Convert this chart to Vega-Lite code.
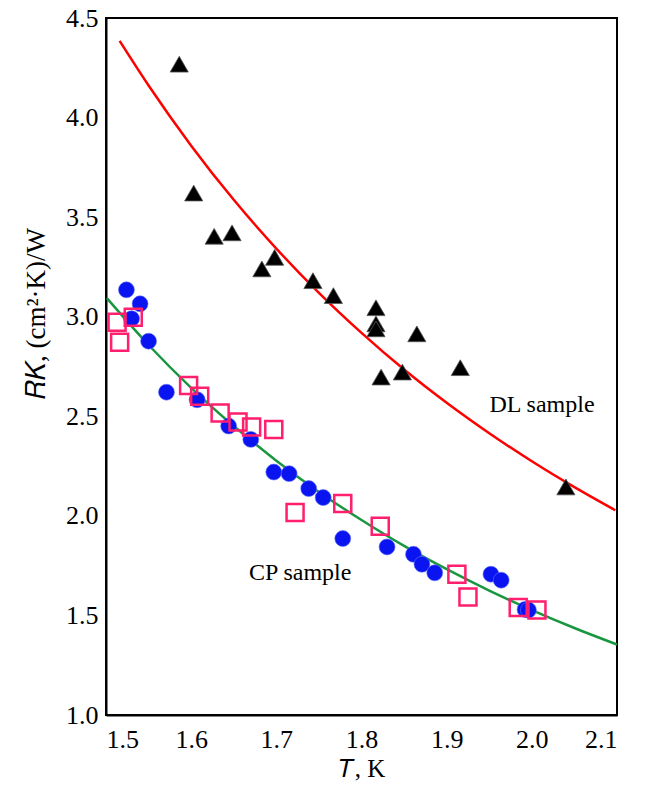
{
  "$schema": "https://vega.github.io/schema/vega-lite/v6.json",
  "width": 511,
  "height": 697,
  "autosize": {"type": "none"},
  "padding": {"left": 106, "top": 18, "right": 29, "bottom": 72},
  "background": "white",
  "config": {
    "font": "Liberation Serif",
    "view": {"stroke": "black", "strokeWidth": 2}
  },
  "datasets": {
    "dlFit": [
      {"T": 1.516, "R": 4.385}, {"T": 1.55, "R": 4.161}, {"T": 1.6, "R": 3.859},
      {"T": 1.65, "R": 3.587}, {"T": 1.7, "R": 3.342}, {"T": 1.75, "R": 3.12},
      {"T": 1.8, "R": 2.919}, {"T": 1.85, "R": 2.735}, {"T": 1.9, "R": 2.568},
      {"T": 1.95, "R": 2.415}, {"T": 2.0, "R": 2.274}, {"T": 2.05, "R": 2.144},
      {"T": 2.098, "R": 2.028}
    ],
    "cpFit": [
      {"T": 1.501, "R": 3.093}, {"T": 1.55, "R": 2.858}, {"T": 1.6, "R": 2.643},
      {"T": 1.65, "R": 2.451}, {"T": 1.7, "R": 2.277}, {"T": 1.75, "R": 2.12},
      {"T": 1.8, "R": 1.979}, {"T": 1.85, "R": 1.849}, {"T": 1.9, "R": 1.732},
      {"T": 1.95, "R": 1.625}, {"T": 2.0, "R": 1.527}, {"T": 2.05, "R": 1.437},
      {"T": 2.1, "R": 1.354}
    ],
    "dl": [
      {"T": 1.586, "R": 4.268}, {"T": 1.603, "R": 3.621}, {"T": 1.627, "R": 3.404},
      {"T": 1.648, "R": 3.421}, {"T": 1.683, "R": 3.24}, {"T": 1.698, "R": 3.298},
      {"T": 1.743, "R": 3.181}, {"T": 1.767, "R": 3.106}, {"T": 1.817, "R": 3.045},
      {"T": 1.817, "R": 2.964}, {"T": 1.817, "R": 2.939}, {"T": 1.865, "R": 2.914},
      {"T": 1.823, "R": 2.697}, {"T": 1.848, "R": 2.722}, {"T": 1.916, "R": 2.744},
      {"T": 2.04, "R": 2.145}
    ],
    "cpCircles": [
      {"T": 1.524, "R": 3.135}, {"T": 1.54, "R": 3.065}, {"T": 1.53, "R": 2.99},
      {"T": 1.55, "R": 2.877}, {"T": 1.571, "R": 2.621}, {"T": 1.607, "R": 2.583},
      {"T": 1.644, "R": 2.451}, {"T": 1.67, "R": 2.384}, {"T": 1.697, "R": 2.22},
      {"T": 1.715, "R": 2.212}, {"T": 1.738, "R": 2.137}, {"T": 1.755, "R": 2.092},
      {"T": 1.778, "R": 1.886}, {"T": 1.83, "R": 1.844}, {"T": 1.861, "R": 1.807},
      {"T": 1.871, "R": 1.757}, {"T": 1.886, "R": 1.714}, {"T": 1.952, "R": 1.707},
      {"T": 1.964, "R": 1.677}, {"T": 1.992, "R": 1.53}, {"T": 1.996, "R": 1.527}
    ],
    "cpSquares": [
      {"T": 1.513, "R": 2.972}, {"T": 1.516, "R": 2.872}, {"T": 1.532, "R": 2.997},
      {"T": 1.597, "R": 2.655}, {"T": 1.61, "R": 2.6}, {"T": 1.634, "R": 2.516},
      {"T": 1.655, "R": 2.471}, {"T": 1.671, "R": 2.446}, {"T": 1.697, "R": 2.434},
      {"T": 1.722, "R": 2.017}, {"T": 1.778, "R": 2.062}, {"T": 1.822, "R": 1.948},
      {"T": 1.912, "R": 1.707}, {"T": 1.925, "R": 1.593}, {"T": 1.984, "R": 1.54},
      {"T": 2.006, "R": 1.527}
    ],
    "labels": [
      {"T": 2.012, "R": 2.555, "text": "DL sample"},
      {"T": 1.728, "R": 1.712, "text": "CP sample"}
    ],
    "yTicks": [{"R": 1.5}, {"R": 2.0}, {"R": 2.5}, {"R": 3.0}, {"R": 3.5}, {"R": 4.0}],
    "xTicks": [{"T": 1.6}, {"T": 1.7}, {"T": 1.8}, {"T": 1.9}, {"T": 2.0}]
  },
  "encoding": {
    "x": {
      "field": "T", "type": "quantitative",
      "scale": {"domain": [1.5, 2.1], "nice": false, "zero": false},
      "axis": {
        "values": [1.5, 1.6, 1.7, 1.8, 1.9, 2.0, 2.1], "format": ".1f", "title": "𝑇, K",
        "grid": false, "ticks": false, "domainColor": "#000000", "domainWidth": 2,
        "labelFontSize": 26, "labelColor": "#000000", "labelPadding": 11,
        "titleFontSize": 25, "titleFontWeight": "normal", "titleColor": "#000000", "titlePadding": 4
      }
    },
    "y": {
      "field": "R", "type": "quantitative",
      "scale": {"domain": [1.0, 4.5], "nice": false, "zero": false},
      "axis": {
        "values": [1.0, 1.5, 2.0, 2.5, 3.0, 3.5, 4.0, 4.5], "format": ".1f", "title": "𝑅𝐾, (cm²·K)/W",
        "grid": false, "ticks": false, "domainColor": "#000000", "domainWidth": 2,
        "labelFontSize": 26, "labelColor": "#000000", "labelPadding": 8,
        "titleFontSize": 27, "titleFontWeight": "normal", "titleColor": "#000000",
        "titleAngle": -90, "titleX": -70, "titleY": 295, "titleAlign": "center", "titleBaseline": "middle"
      }
    }
  },
  "layer": [
    {"data": {"name": "yTicks"}, "mark": {"type": "rule", "color": "black", "strokeWidth": 2.5}, "encoding": {"x": {"datum": 1.5}, "x2": {"datum": 1.5125}, "y": {"field": "R", "type": "quantitative"}}},
    {"data": {"name": "xTicks"}, "mark": {"type": "rule", "color": "black", "strokeWidth": 2.5}, "encoding": {"x": {"field": "T", "type": "quantitative"}, "y": {"datum": 1.0}, "y2": {"datum": 1.05}}},
    {"data": {"name": "dlFit"}, "mark": {"type": "line", "color": "#ff0000", "strokeWidth": 2.5, "interpolate": "monotone"}},
    {"data": {"name": "cpFit"}, "mark": {"type": "line", "color": "#1a9641", "strokeWidth": 2.5, "interpolate": "monotone"}},
    {"data": {"name": "dl"}, "mark": {"type": "point", "shape": "triangle-up", "filled": true, "fill": "black", "stroke": "#555555", "strokeWidth": 0.8, "size": 330, "opacity": 1}},
    {"data": {"name": "cpCircles"}, "mark": {"type": "point", "shape": "circle", "filled": true, "fill": "#0a14f0", "stroke": "#6070ff", "strokeWidth": 0.6, "size": 254, "opacity": 1}},
    {"data": {"name": "cpSquares"}, "mark": {"type": "point", "shape": "square", "filled": false, "stroke": "#ff1f6e", "strokeWidth": 2.5, "size": 289, "opacity": 1}},
    {"data": {"name": "labels"}, "mark": {"type": "text", "fontSize": 24, "color": "black", "align": "center", "baseline": "middle"}, "encoding": {"text": {"field": "text"}}}
  ]
}
